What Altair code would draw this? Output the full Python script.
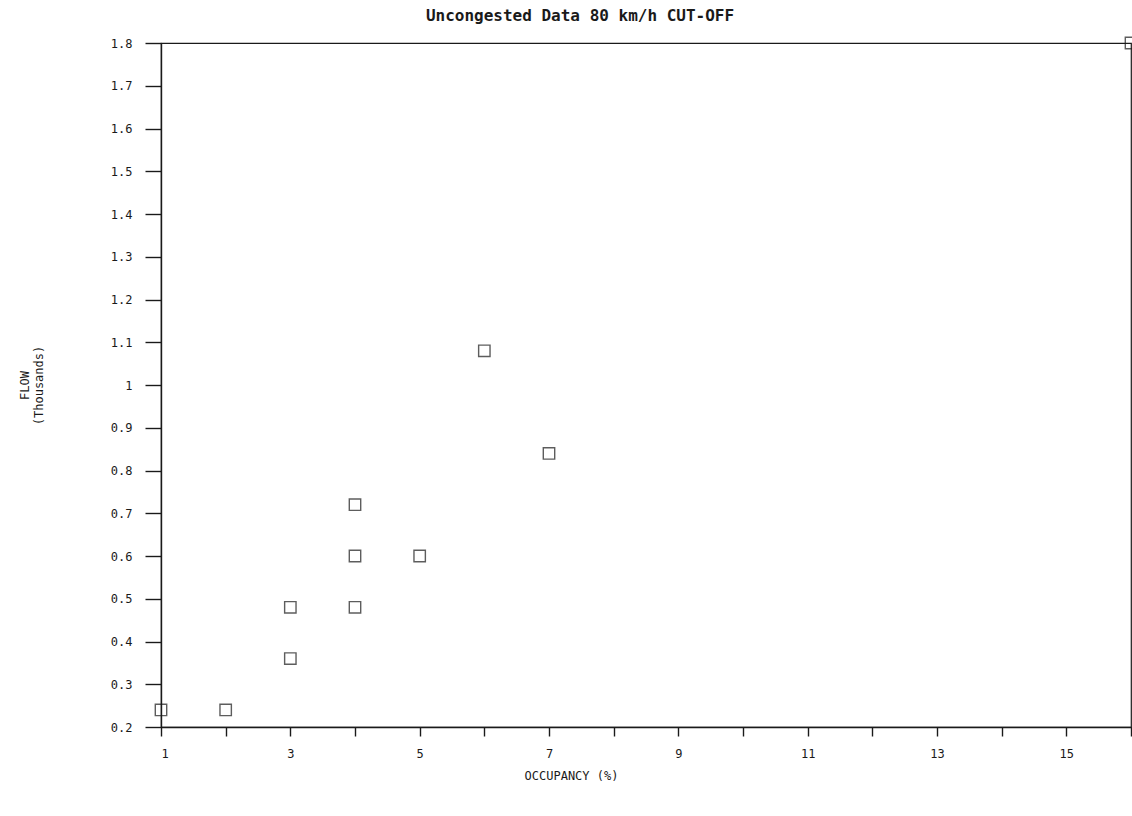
import altair as alt
import pandas as pd

# Occupancy (%) vs. flow (thousands of vehicles/h), uncongested observations
occupancy = [1, 2, 3, 3, 4, 4, 4, 5, 6, 7, 16]
flow = [0.24, 0.24, 0.48, 0.36, 0.72, 0.60, 0.48, 0.60, 1.08, 0.84, 1.80]

x_ticks = list(range(1, 17))
y_ticks = [round(0.2 + 0.1 * i, 1) for i in range(17)]

df = pd.DataFrame({"occupancy": occupancy, "flow": flow})

FONT = "DejaVu Sans Mono"
INK = "#1a1a1a"

points = alt.Chart(df).mark_point(
    shape="square", filled=False, size=130, strokeWidth=1.4, color=INK, clip=False
).encode(
    x=alt.X(
        "occupancy:Q",
        scale=alt.Scale(domain=[1, 16], nice=False, zero=False),
        axis=alt.Axis(
            values=x_ticks,
            labelExpr="datum.value % 2 == 1 ? datum.label : ''",
            title="OCCUPANCY (%)",
            titleX=410,
            titleY=48,
            titleAlign="center",
            titleBaseline="middle",
            tickSize=9,
            labelPadding=12,
            grid=False,
        ),
    ),
    y=alt.Y(
        "flow:Q",
        scale=alt.Scale(domain=[0.2, 1.8], nice=False, zero=False),
        axis=alt.Axis(
            values=y_ticks,
            format=".1~f",
            title=["FLOW", "(Thousands)"],
            titleAngle=-90,
            titleX=-142,
            titleY=342,
            titleAlign="center",
            titleBaseline="top",
            tickSize=16,
            labelPadding=13,
            grid=False,
        ),
    ),
)

chart = points.properties(
    width=970,
    height=684,
    background="white",
    autosize=alt.AutoSizeParams(type="none"),
    padding={"left": 161, "top": 43, "right": 1, "bottom": 89},
    title=alt.TitleParams(
        "Uncongested Data 80 km/h CUT-OFF",
        anchor="middle",
        dx=-66,
        offset=10,
        font=FONT,
        fontSize=16,
        fontWeight="bold",
        color=INK,
    ),
).configure_view(
    stroke=INK, strokeWidth=1.2
).configure_axis(
    domainColor=INK,
    domainWidth=1.4,
    tickColor=INK,
    tickWidth=1.4,
    labelFont=FONT,
    labelFontSize=12,
    labelColor=INK,
    titleFont=FONT,
    titleFontSize=12,
    titleFontWeight="normal",
    titleColor=INK,
)

chart.save("out.html", embed_options={"renderer": "svg", "actions": False})
